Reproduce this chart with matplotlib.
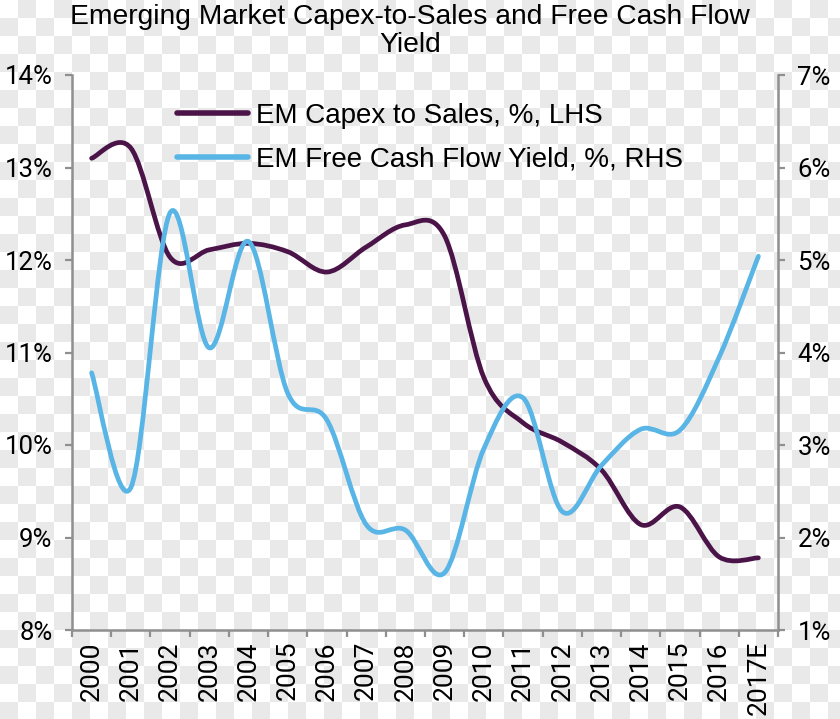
import numpy as np
import matplotlib
matplotlib.use("Agg")
import matplotlib.pyplot as plt
from matplotlib.path import Path
from matplotlib.patches import PathPatch
from matplotlib.lines import Line2D
from matplotlib.ticker import FuncFormatter, FixedLocator

# Data
years = ["2000", "2001", "2002", "2003", "2004", "2005", "2006", "2007", "2008",
         "2009", "2010", "2011", "2012", "2013", "2014", "2015", "2016", "2017E"]
capex_to_sales = [13.10, 13.21, 12.03, 12.11, 12.18, 12.09, 11.87, 12.14, 12.38,
                  12.26, 10.73, 10.24, 10.03, 9.73, 9.14, 9.33, 8.79, 8.78]
fcf_yield = [3.78, 2.54, 5.51, 4.05, 5.20, 3.56, 3.27, 2.14, 2.08,
             1.62, 2.96, 3.51, 2.28, 2.78, 3.17, 3.16, 3.95, 5.04]

left_ticks = [8, 9, 10, 11, 12, 13, 14]
right_ticks = [1, 2, 3, 4, 5, 6, 7]

PURPLE = "#4b1449"
BLUE = "#58b5e5"
GREY = "#8f8f8f"

TICK_FONT = ["Roboto", "DejaVu Sans"]
TEXT_FONT = ["Liberation Sans", "DejaVu Sans"]


def smooth_path(xs, ys):
    """Excel-style smoothed line as a cubic Bezier path through the points."""
    pts = np.column_stack([xs, ys]).astype(float)
    n = len(pts)
    verts = [pts[0]]
    codes = [Path.MOVETO]
    for i in range(n - 1):
        p0 = pts[i - 1] if i > 0 else pts[i]
        p1 = pts[i]
        p2 = pts[i + 1]
        p3 = pts[i + 2] if i + 2 < n else pts[i + 1]
        c1 = p1 + (p2 - p0) / 6.0
        c2 = p2 - (p3 - p1) / 6.0
        verts += [c1, c2, p2]
        codes += [Path.CURVE4] * 3
    return Path(verts, codes)


fig = plt.figure(figsize=(8.4, 7.19), dpi=100)

# checkerboard backdrop as in the reference image
sq = 18
h_px, w_px = 719, 840
yy, xx = np.mgrid[0:h_px, 0:w_px]
board = np.where(((xx // sq) + (yy // sq)) % 2 == 0, 1.0, 0.915)
fig.figimage(np.dstack([board, board, board]), xo=0, yo=0, origin="upper", zorder=-10)

ax = fig.add_axes([72 / 840, 89 / 719, 706 / 840, 555 / 719])
ax.patch.set_alpha(0)
ax2 = ax.twinx()
ax2.patch.set_alpha(0)

x = np.arange(len(years))

ax.add_patch(PathPatch(smooth_path(x, capex_to_sales), fill=False, edgecolor=PURPLE,
                       linewidth=3.4, capstyle="round", joinstyle="round", zorder=3))
ax2.add_patch(PathPatch(smooth_path(x, fcf_yield), fill=False, edgecolor=BLUE,
                        linewidth=3.4, capstyle="round", joinstyle="round", zorder=2))

ax.set_xlim(-0.5, len(years) - 0.5)
ax.set_ylim(8, 14)
ax2.set_ylim(1, 7)

ax.yaxis.set_major_locator(FixedLocator(left_ticks))
ax2.yaxis.set_major_locator(FixedLocator(right_ticks))
pct = FuncFormatter(lambda v, _: f"{v:.0f}%")
ax.yaxis.set_major_formatter(pct)
ax2.yaxis.set_major_formatter(pct)

ax.set_xticks(x)
ax.set_xticklabels(years, rotation=90, fontsize=19, family=TICK_FONT)
ax.set_xticks(np.arange(-0.5, len(years)), minor=True)
ax.tick_params(axis="x", which="major", length=0, pad=8)
ax.tick_params(axis="x", which="minor", length=5, width=1.6, color=GREY, direction="out")

for a in (ax, ax2):
    for s in a.spines.values():
        s.set_visible(False)
    a.tick_params(axis="y", length=5, width=1.6, color=GREY, direction="out",
                  labelsize=18.5, pad=9)
    for lbl in a.get_yticklabels():
        lbl.set_family(TICK_FONT)

ax.spines["left"].set_visible(True)
ax.spines["bottom"].set_visible(True)
ax2.spines["right"].set_visible(True)
for s in (ax.spines["left"], ax.spines["bottom"], ax2.spines["right"]):
    s.set_color(GREY)
    s.set_linewidth(1.8)

handles = [Line2D([], [], color=PURPLE, lw=4, solid_capstyle="round"),
           Line2D([], [], color=BLUE, lw=4, solid_capstyle="round")]
ax2.legend(handles, ["EM Capex to Sales, %, LHS", "EM Free Cash Flow Yield, %, RHS"],
           loc="upper left", bbox_to_anchor=(0.113, 0.995), frameon=False,
           handlelength=2.55, handletextpad=0.3, labelspacing=0.65,
           prop={"family": TEXT_FONT, "size": 20})

fig.text(410 / 840, 1 - 4 / 719,
         "Emerging Market Capex-to-Sales and Free Cash Flow\nYield",
         ha="center", va="top", fontsize=20.3, family=TEXT_FONT, linespacing=1.1)

fig.savefig("out.png", dpi=100)
